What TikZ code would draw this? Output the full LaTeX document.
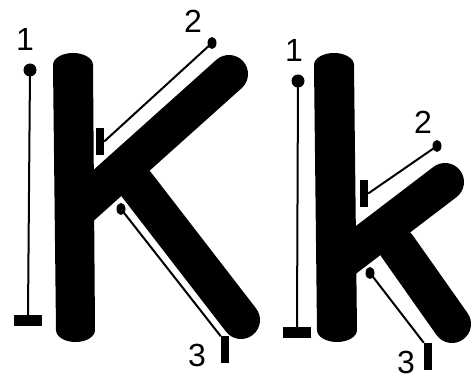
\documentclass[tikz,border=0pt]{standalone}
\usepackage{fontspec}
\setmainfont{Liberation Sans}
\usetikzlibrary{shapes.geometric}
\begin{document}
\begin{tikzpicture}[x=1pt,y=-1pt,
  num/.style={inner sep=0pt, font=\fontsize{32}{32}\selectfont},
  stroke/.style={line width=38pt, line cap=round},
  guide/.style={line width=2pt},
  rdot/.style={circle, fill, draw=none, inner sep=0pt, minimum size=13pt},
  odot/.style={ellipse, fill, draw=none, inner sep=0pt, minimum width=9pt, minimum height=12pt},
  hbar/.style={rectangle, fill, draw=none, inner sep=0pt, minimum width=28pt, minimum height=11pt},
  vbar/.style={rectangle, fill, draw=none, inner sep=0pt, minimum width=8pt, minimum height=27pt}]
\useasboundingbox (0,0) rectangle (475,385);

% ---- capital K ----
\fill (53,65) arc[start angle=180,end angle=360,x radius=20,y radius=12]
  -- (95,330) arc[start angle=0,end angle=180,x radius=19.5,y radius=12] -- cycle;
\draw[stroke] (75,212) -- (229,74);
\draw[stroke] (136,184) -- (241,320);

% ---- small k ----
\fill (314,65) arc[start angle=180,end angle=360,x radius=20,y radius=12]
  -- (357,330) arc[start angle=0,end angle=180,x radius=20,y radius=12] -- cycle;
\draw[stroke] (340,262) -- (445,182);
\draw[stroke] (397,246) -- (452,324);

% ---- guides for K ----
\node[num] (n1a) at (25,39) {1};
\node[rdot] (d1a) at (30,70) {};
\node[hbar] (b1a) at (28,320.5) {};
\draw[guide] (d1a.center) -- (b1a.north);

\node[num] (n2a) at (193,21) {2};
\node[odot] (d2a) at (212,43) {};
\node[vbar] (b2a) at (100,141.5) {};
\draw[guide] (d2a.center) -- (b2a.east);

\node[num] (n3a) at (197,355) {3};
\node[odot] (d3a) at (121,209) {};
\node[vbar] (b3a) at (225,350) {};
\draw[guide] (d3a.center) -- (b3a.north west);

% ---- guides for k ----
\node[num] (n1b) at (294,50) {1};
\node[rdot] (d1b) at (298,81) {};
\node[hbar] (b1b) at (297,332.5) {};
\draw[guide] (d1b.center) -- (b1b.north);

\node[num] (n2b) at (423,122) {2};
\node[odot] (d2b) at (437,146) {};
\node[vbar] (b2b) at (364,193.5) {};
\draw[guide] (d2b.center) -- (b2b.east);

\node[num] (n3b) at (406,362) {3};
\node[odot] (d3b) at (370,273) {};
\node[vbar] (b3b) at (428,356.5) {};
\draw[guide] (d3b.center) -- (b3b.north west);
\end{tikzpicture}
\end{document}
